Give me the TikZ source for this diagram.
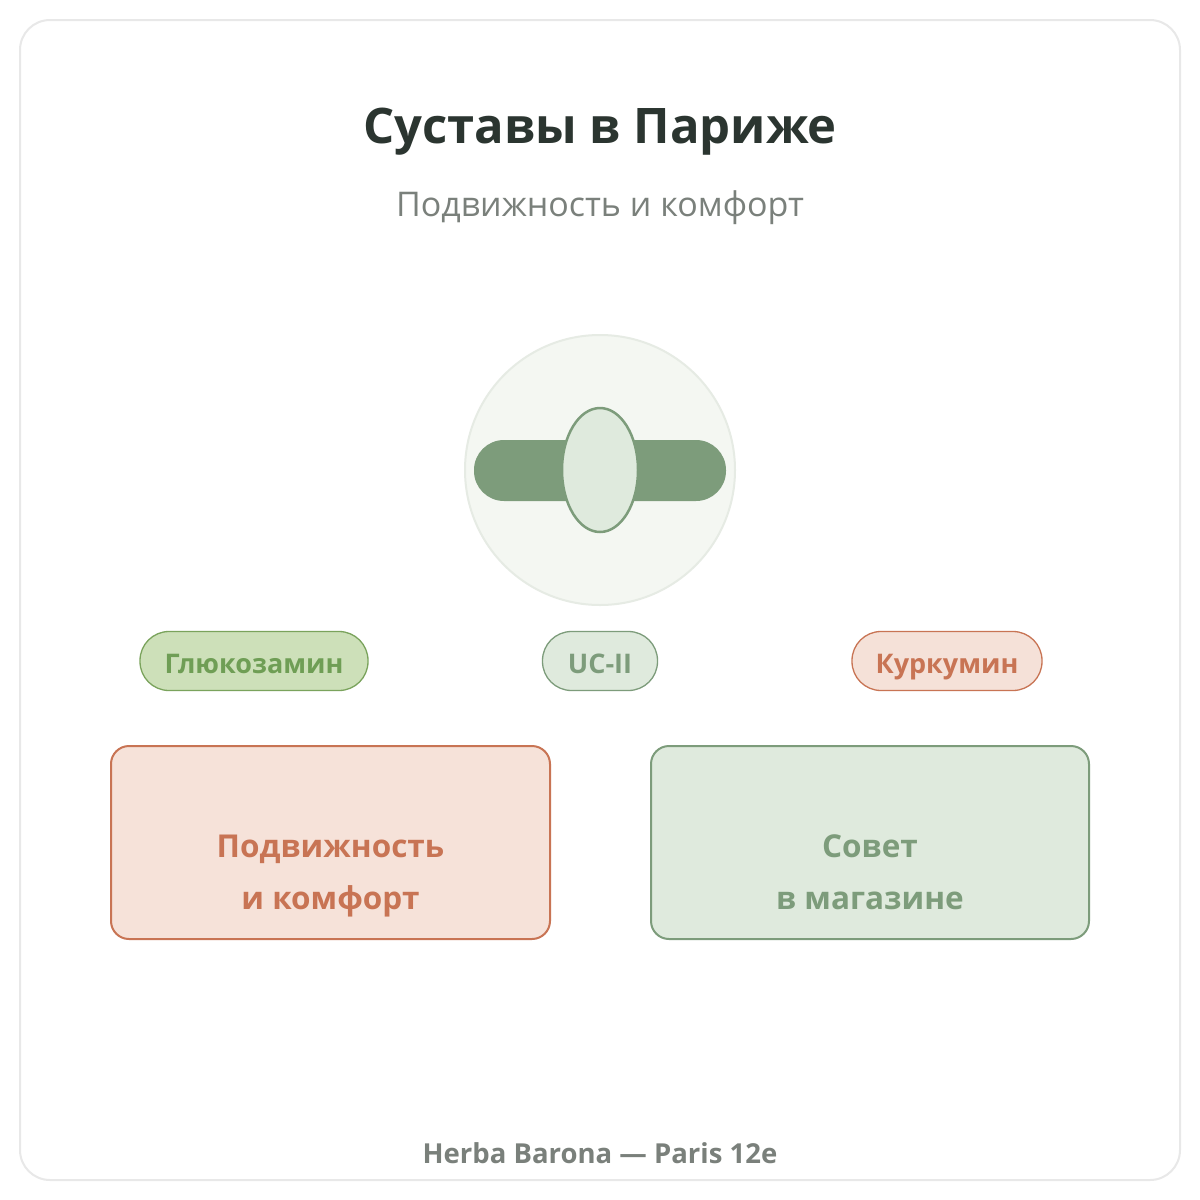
\documentclass[tikz,border=0pt]{standalone}
\usepackage{fontspec}
\setmainfont{Open Sans}
\begin{document}
\begin{tikzpicture}[x=1pt,y=-1pt,
  pill/.style={draw,rounded corners=29pt,line width=1.3pt},
  pilltext/.style={anchor=base,font=\fontsize{27}{30}\selectfont\bfseries},
  box/.style={draw,rounded corners=18pt,line width=2pt},
  boxtext/.style={anchor=base,font=\fontsize{31.5}{52}\selectfont\bfseries}]
\definecolor{sage}{HTML}{7D9C7B}
\definecolor{sagel}{HTML}{DFEADD}
\definecolor{terra}{HTML}{C87454}
\definecolor{terral}{HTML}{F6E2D9}
\definecolor{gfill}{HTML}{CDE0B9}
\definecolor{gdraw}{HTML}{7AA35C}
\definecolor{gtext}{HTML}{6F9E55}
\definecolor{kfill}{HTML}{F5E1D8}
\definecolor{tdark}{HTML}{2B3530}
\definecolor{tgray}{HTML}{7A807B}
\definecolor{cfill}{HTML}{F4F7F2}
\definecolor{cdraw}{HTML}{E6EBE4}
\useasboundingbox (0,0) rectangle (1200,1200);
\fill[white] (0,0) rectangle (1200,1200);
\draw[draw=black!9,line width=2pt,rounded corners=30pt] (20,20) rectangle (1180,1180);
\node (title) at (600,132) {\fontsize{49}{50}\selectfont\bfseries\color{tdark}Суставы в Париже};
\node (sub) at (600,208) {\fontsize{34}{36}\selectfont\color{tgray}Подвижность и комфорт};
\draw[fill=cfill,draw=cdraw,line width=2pt] (600,470) circle (135);
\fill[sage,rounded corners=30pt] (474,440) rectangle (726,501);
\draw[fill=sagel,draw=sage,line width=2.5pt] (600,470) ellipse (38 and 62);
\node[pill,fill=gfill,draw=gdraw,minimum width=228,minimum height=59] (g) at (254,661) {};
\node[pilltext,text=gtext] (gt) at (254,673) {Глюкозамин};
\node[pill,fill=sagel,draw=sage,minimum width=115,minimum height=59] (u) at (600,661) {};
\node[pilltext,text=sage] (ut) at (600,673) {UC-II};
\node[pill,fill=kfill,draw=terra,minimum width=190,minimum height=59] (k) at (947,661) {};
\node[pilltext,text=terra] (kt) at (947,673) {Куркумин};
\node[box,fill=terral,draw=terra,minimum width=439,minimum height=193] (b1) at (330.5,842.5) {};
\node[boxtext,text=terra] (b1a) at (330.5,857) {Подвижность};
\node[boxtext,text=terra] (b1b) at (330.5,909) {и комфорт};
\node[box,fill=sagel,draw=sage,minimum width=438,minimum height=193] (b2) at (870,842.5) {};
\node[boxtext,text=sage] (b2a) at (870,857) {Совет};
\node[boxtext,text=sage] (b2b) at (870,909) {в магазине};
\node (foot) at (600,1153) {\fontsize{27.5}{30}\selectfont\bfseries\color{tgray}Herba Barona — Paris 12e};
\end{tikzpicture}
\end{document}
